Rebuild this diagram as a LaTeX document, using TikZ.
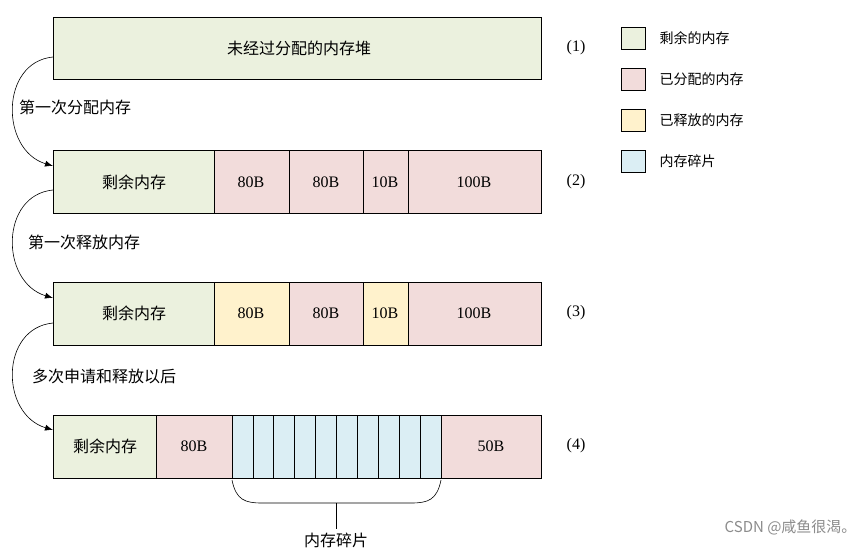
\documentclass[tikz,border=0pt]{standalone}
\usepackage{fontspec}
\setmainfont{Liberation Serif}
\newfontfamily\cjk{Noto Sans CJK SC}
\usetikzlibrary{arrows.meta}
\definecolor{freeg}{HTML}{EBF1DE}
\definecolor{usedp}{HTML}{F2DCDB}
\definecolor{relsy}{HTML}{FFF2CC}
\definecolor{fragb}{HTML}{DBEEF4}
\tikzset{
  cell/.style={draw=black, line width=0.8pt},
  lbl/.style={font=\fontsize{16}{18}\selectfont},
  cjklbl/.style={font=\cjk\fontsize{16}{18}\selectfont},
  flow/.style={-{Latex[length=8pt,width=6pt]}, line width=0.6pt}
}
\begin{document}
\begin{tikzpicture}[x=1pt,y=-1pt]
    \useasboundingbox[fill=white] (0,0) rectangle (866,547);
    % row 1
    \draw[cell, fill=freeg] (53,17) rectangle (541,79);
    \node[cjklbl] (heap) at (299,48) {未经过分配的内存堆};
    % row 2
    \draw[cell, fill=freeg] (53,150) rectangle (214,213);
    \draw[cell, fill=usedp] (214,150) rectangle (289,213)
                            (289,150) rectangle (363,213)
                            (363,150) rectangle (408,213)
                            (408,150) rectangle (541,213);
    \node[cjklbl] (restb) at (134,182) {剩余内存};
    \node[lbl] (b1) at (251,182) {80B};
    \node[lbl] (b2) at (326,182) {80B};
    \node[lbl] (b3) at (385,182) {10B};
    \node[lbl] (b4) at (474,182) {100B};
    % row 3
    \draw[cell, fill=freeg] (53,282) rectangle (214,345);
    \draw[cell, fill=relsy] (214,282) rectangle (289,345)
                            (363,282) rectangle (408,345);
    \draw[cell, fill=usedp] (289,282) rectangle (363,345)
                            (408,282) rectangle (541,345);
    \node[cjklbl] (restc) at (134,313) {剩余内存};
    \node[lbl] (c1) at (251,313) {80B};
    \node[lbl] (c2) at (326,313) {80B};
    \node[lbl] (c3) at (385,313) {10B};
    \node[lbl] (c4) at (474,313) {100B};
    % row 4
    \draw[cell, fill=freeg] (53,415) rectangle (156,478);
    \draw[cell, fill=usedp] (156,415) rectangle (232,478)
                            (441,415) rectangle (541,478);
    \foreach \i in {0,...,9}
        \draw[cell, fill=fragb] (232+20.9*\i,415) rectangle (252.9+20.9*\i,478);
    \node[cjklbl] (restd) at (105,446) {剩余内存};
    \node[lbl] (d1) at (194,446) {80B};
    \node[lbl] (d2) at (491,446) {50B};
    % brace
    \draw[line width=0.6pt] (232,480) .. controls (236,500) and (245,503) .. (262,503)
        -- (411,503) .. controls (428,503) and (437,500) .. (441,480);
    \coordinate (bmid) at (336,503);
    \node[cjklbl, anchor=north] (frag) at (336,529) {内存碎片};
    \draw[line width=0.6pt] (bmid) -- (frag.north);
    % step numbers
    \node[lbl] (n1) at (576,48) {(1)};
    \node[lbl] (n2) at (576,182) {(2)};
    \node[lbl] (n3) at (576,313) {(3)};
    \node[lbl] (n4) at (576,446) {(4)};
    % arrows
    \coordinate (s1) at (53,57);  \coordinate (e1) at (53,166);
    \coordinate (s2) at (53,190); \coordinate (e2) at (53,298);
    \coordinate (s3) at (53,323); \coordinate (e3) at (53,430);
    \draw[flow] (s1) .. controls (0,62) and (0,150) .. (e1);
    \draw[flow] (s2) .. controls (0,195) and (0,282) .. (e2);
    \draw[flow] (s3) .. controls (0,328) and (0,414) .. (e3);
    \node[cjklbl, anchor=west, fill=white, inner sep=1pt] (t1) at (18,107) {第一次分配内存};
    \node[cjklbl, anchor=west, fill=white, inner sep=1pt] (t2) at (27,242) {第一次释放内存};
    \node[cjklbl, anchor=west, fill=white, inner sep=1pt] (t3) at (31,376) {多次申请和释放以后};
    % legend
    \draw[cell, fill=freeg] (621,27) rectangle (645,49);
    \draw[cell, fill=usedp] (621,68) rectangle (645,90);
    \draw[cell, fill=relsy] (621,109) rectangle (645,131);
    \draw[cell, fill=fragb] (621,150) rectangle (645,172);
    \node[cjklbl, anchor=west, font=\cjk\fontsize{14}{16}\selectfont] (k1) at (656,38) {剩余的内存};
    \node[cjklbl, anchor=west, font=\cjk\fontsize{14}{16}\selectfont] (k2) at (656,79) {已分配的内存};
    \node[cjklbl, anchor=west, font=\cjk\fontsize{14}{16}\selectfont] (k3) at (656,120) {已释放的内存};
    \node[cjklbl, anchor=west, font=\cjk\fontsize{14}{16}\selectfont] (k4) at (656,161) {内存碎片};
    % watermark
    \node[font=\cjk\fontsize{15}{17}\selectfont, text=black!45, anchor=east] (wm) at (860,527) {CSDN @咸鱼很渴。};
\end{tikzpicture}
\end{document}
